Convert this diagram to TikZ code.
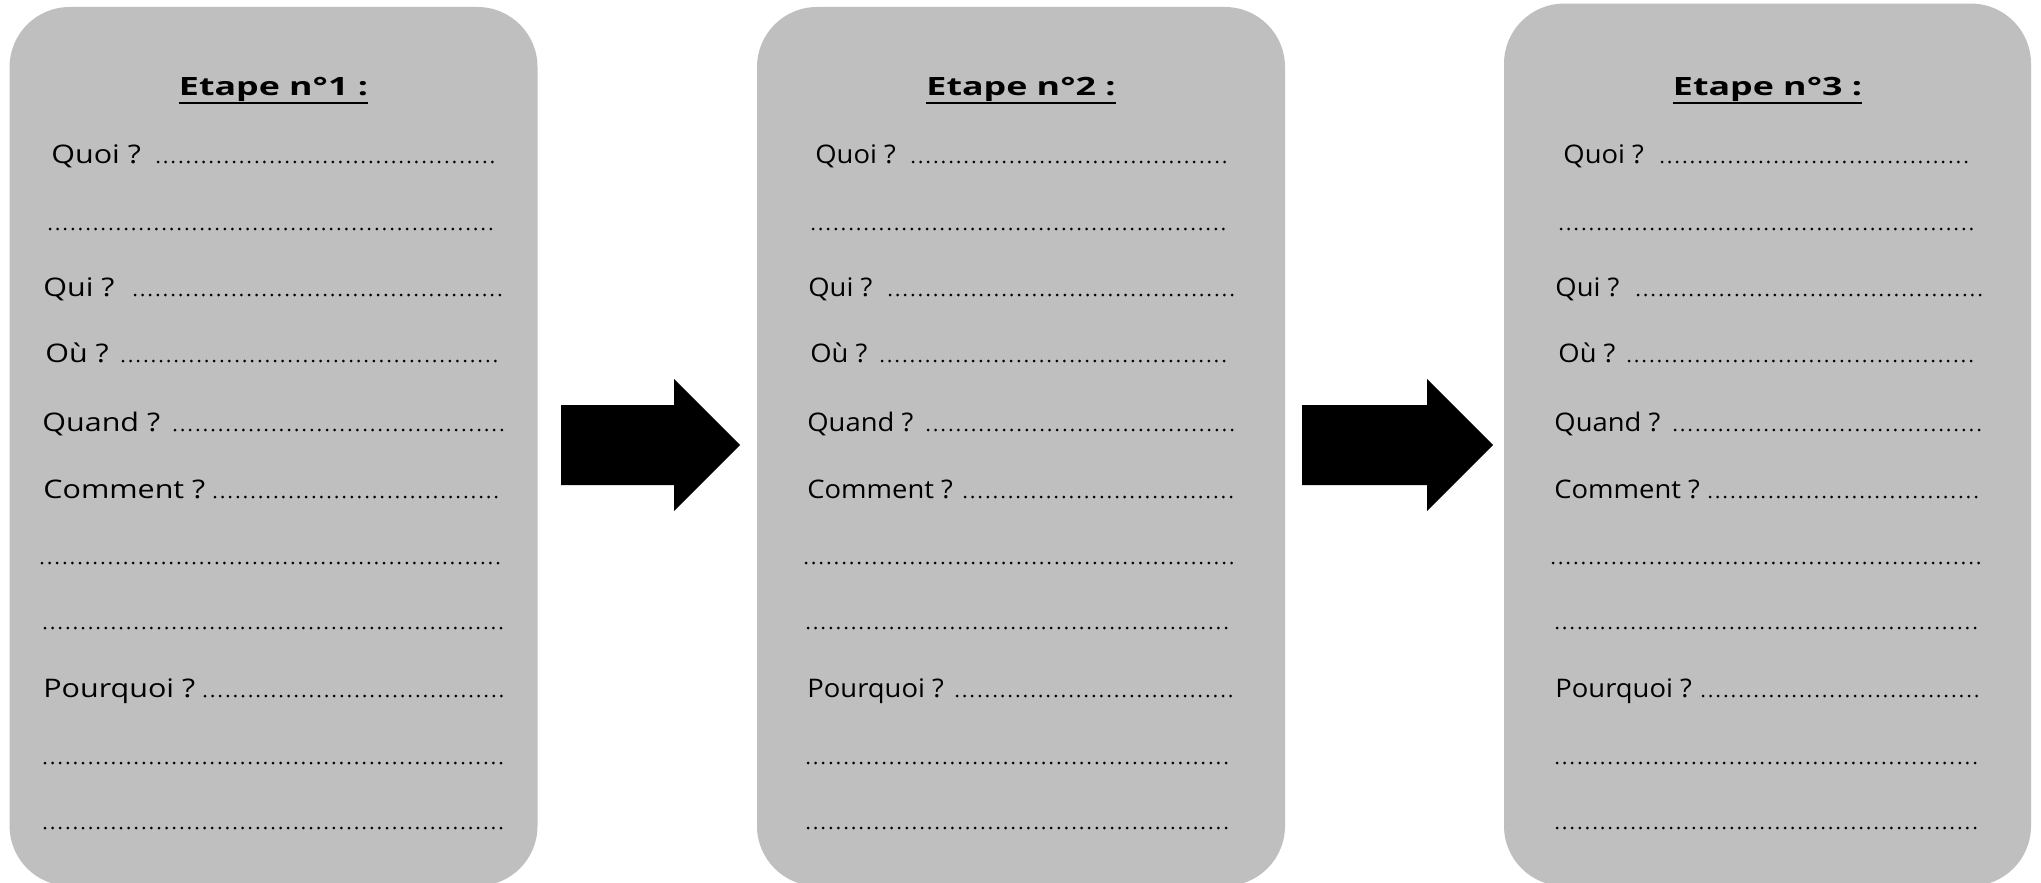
\documentclass[tikz,border=0pt]{standalone}
\usepackage{fontspec}
\setmainfont[FakeStretch=1.19]{Open Sans}
\newfontfamily\narrowfont[FakeStretch=1.07]{Open Sans}
\newfontfamily\titlefont[FakeStretch=1.42]{Open Sans}
\definecolor{panelgray}{RGB}{191,191,191}
\tikzset{
  panel/.style={fill=panelgray, draw=none, rounded corners=30pt},
  qlabel/.style={anchor=base west, inner sep=0pt, font=\fontsize{12.8pt}{14pt}\selectfont},
  qlabelb/.style={qlabel, font=\narrowfont\fontsize{12.8pt}{14pt}\selectfont},
  leader/.style={line width=1.5pt, line cap=round, dash pattern=on 0pt off 3.8pt},
  ttl/.style={anchor=base, inner sep=0pt, font=\titlefont\bfseries\fontsize{12.6pt}{14pt}\selectfont},
  uline/.style={line width=1.4pt},
  bigarrow/.style={fill=black, draw=none}
}
% style, name, y (dot centre), label, label x, dots start, dots end
\newcommand\qrow[7]{%
  \node[#1] (#2) at (#5,#3+1.5) {#4};
  \draw[leader] (#6,#3) -- (#7,#3);}
% y, start, end
\newcommand\drow[3]{\draw[leader] (#2,#1) -- (#3,#1);}
\begin{document}
\begin{tikzpicture}[x=0.5pt,y=-0.5pt]
\useasboundingbox (0,0) rectangle (2041,883);
\clip (0,0) rectangle (2041,883);
\fill[white] (0,0) rectangle (2041,883);

% panels
\path[panel] (9.6,7) rectangle (537.5,886);
\path[panel] (757,7) rectangle (1285,886);
\path[panel] (1504,3.6) rectangle (2031,886);

% arrows
\fill[bigarrow] (561,405) -- (674,405) -- (674,379) -- (740,445) -- (674,511) -- (674,485) -- (561,485) -- cycle;
\fill[bigarrow] (1302,405) -- (1427,405) -- (1427,379) -- (1493,445) -- (1427,511) -- (1427,485) -- (1302,485) -- cycle;

% titles
\node[ttl] (t1) at (273.5,96) {Etape n°1 :};
\draw[uline] (t1.west |- 0,103) -- (t1.east |- 0,103);
\node[ttl] (t2) at (1021,96) {Etape n°2 :};
\draw[uline] (t2.west |- 0,103) -- (t2.east |- 0,103);
\node[ttl] (t3) at (1767.5,96) {Etape n°3 :};
\draw[uline] (t3.west |- 0,103) -- (t3.east |- 0,103);

% panel 1
\qrow{qlabel}{a0}{162}{Quoi ?}{51}{158}{495}
\drow{229}{50}{497}
\qrow{qlabel}{a2}{295}{Qui ?}{43}{135}{503}
\qrow{qlabel}{a3}{361}{Où ?}{45}{123}{500}
\qrow{qlabel}{a4}{430}{Quand ?}{42}{175}{503}
\qrow{qlabel}{a5}{497}{Comment ?}{43}{215}{503}
\drow{563}{42}{505}
\drow{628}{45}{505}
\qrow{qlabel}{a8}{696}{Pourquoi ?}{43}{205}{503}
\drow{763}{45}{502}
\drow{828}{45}{502}

% panel 2
\qrow{qlabelb}{b0}{162}{Quoi ?}{815}{913}{1225}
\drow{229}{813}{1228}
\qrow{qlabelb}{b2}{295}{Qui ?}{808}{890}{1233}
\qrow{qlabelb}{b3}{361}{Où ?}{810}{882}{1231}
\qrow{qlabelb}{b4}{430}{Quand ?}{807}{928}{1233}
\qrow{qlabelb}{b5}{497}{Comment ?}{807}{965}{1233}
\drow{563}{806}{1237}
\drow{628}{808}{1233}
\qrow{qlabelb}{b8}{696}{Pourquoi ?}{807}{957}{1233}
\drow{763}{808}{1233}
\drow{828}{808}{1233}

% panel 3
\qrow{qlabelb}{c0}{162}{Quoi ?}{1563}{1662}{1973}
\drow{229}{1561}{1975}
\qrow{qlabelb}{c2}{295}{Qui ?}{1555}{1638}{1980}
\qrow{qlabelb}{c3}{361}{Où ?}{1558}{1629}{1978}
\qrow{qlabelb}{c4}{430}{Quand ?}{1554}{1675}{1981}
\qrow{qlabelb}{c5}{497}{Comment ?}{1554}{1710}{1981}
\drow{563}{1553}{1985}
\drow{628}{1557}{1981}
\qrow{qlabelb}{c8}{696}{Pourquoi ?}{1555}{1703}{1981}
\drow{763}{1557}{1981}
\drow{828}{1557}{1981}
\end{tikzpicture}
\end{document}
